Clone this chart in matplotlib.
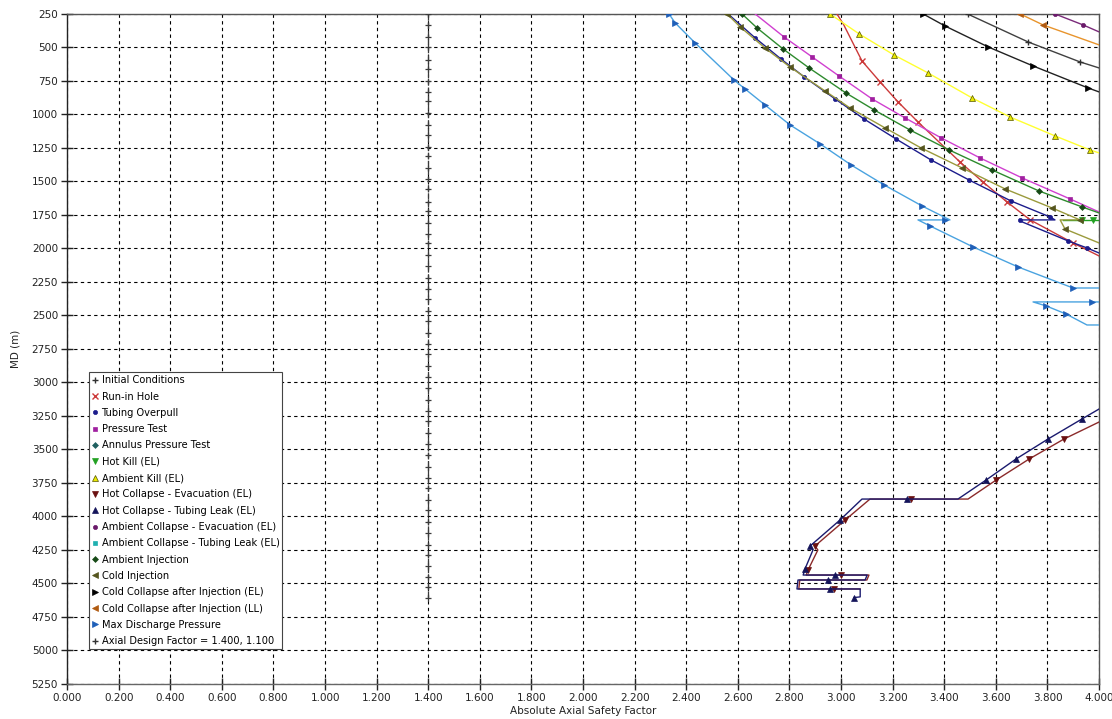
import matplotlib
matplotlib.use("Agg")
import matplotlib.pyplot as plt
from matplotlib.lines import Line2D
from matplotlib.ticker import MultipleLocator, FormatStrFormatter

plt.rcParams['font.family'] = ['DejaVu Sans']

# ---------------------------------------------------------------- data
# Absolute axial safety factor (sf) versus measured depth (md, m)
initial_sf = [3.49, 3.725, 3.926, 4.0]
initial_md = [250, 459, 608, 653]

runin_sf = [2.984, 3.010, 3.081, 3.151, 3.221, 3.298, 3.461, 3.550, 3.643, 3.733, 3.899, 4.0]
runin_md = [250, 330, 601, 757, 907, 1056, 1355, 1504, 1653, 1787, 1959, 2056]

overpull_sf = [2.562, 2.667, 2.767, 2.857, 2.977, 3.089, 3.213, 3.349, 3.496, 3.659, 3.810,
               3.829, 3.694, 3.702, 3.880, 3.953, 4.0]
overpull_md = [250, 429, 586, 720, 884, 1034, 1183, 1340, 1489, 1646, 1765,
               1787, 1787, 1802, 1944, 1996, 2034]

pressure_sf = [2.667, 2.779, 2.888, 2.992, 3.120, 3.248, 3.388, 3.539, 3.702, 3.888, 4.0]
pressure_md = [250, 422, 571, 713, 884, 1026, 1175, 1325, 1474, 1631, 1728]

hotkill_sf = [4.05, 3.977, 3.934, 3.86]
hotkill_md = [1790, 1790, 1790, 1790]

ambkill_sf = [2.957, 3.070, 3.205, 3.337, 3.508, 3.655, 3.829, 3.965, 4.0]
ambkill_md = [250, 399, 556, 690, 877, 1019, 1160, 1265, 1287]

hotevac_sf = [4.0, 3.864, 3.729, 3.601, 3.492, 3.271, 3.112, 3.016, 2.899, 2.910, 2.872,
              2.865, 3.000, 3.108, 3.100, 2.840, 2.836, 2.973, 3.074]
hotevac_md = [3295, 3422, 3571, 3728, 3870, 3870, 3870, 4026, 4220, 4250, 4399,
              4437, 4437, 4437, 4474, 4474, 4541, 4541, 4541]

hotleak_sf = [4.0, 3.934, 3.802, 3.678, 3.562, 3.453, 3.256, 3.081, 2.996, 2.880, 2.891,
              2.860, 2.853, 2.977, 3.101, 3.093, 2.950, 2.833, 2.829, 2.957, 3.074, 3.074, 3.050]
hotleak_md = [3198, 3272, 3422, 3571, 3728, 3870, 3870, 3870, 4026, 4220, 4250,
              4392, 4437, 4437, 4437, 4474, 4474, 4474, 4541, 4541, 4541, 4600, 4605]

ambevac_sf = [3.829, 3.938, 4.0]
ambevac_md = [250, 332, 384]

ambinj_sf = [2.616, 2.674, 2.775, 2.876, 3.019, 3.128, 3.267, 3.419, 3.585, 3.767, 3.934, 4.0]
ambinj_md = [250, 354, 511, 653, 840, 966, 1116, 1265, 1414, 1571, 1690, 1735]

coldinj_sf = [2.558, 2.609, 2.705, 2.802, 2.938, 3.035, 3.171, 3.310, 3.469, 3.636, 3.818,
              3.926, 3.849, 3.868, 4.0]
coldinj_md = [250, 347, 504, 646, 825, 952, 1101, 1250, 1399, 1556, 1698,
              1787, 1787, 1855, 1959]

ccel_sf = [3.318, 3.403, 3.570, 3.744, 3.957, 4.0]
ccel_md = [250, 340, 496, 638, 802, 832]

ccll_sf = [3.694, 3.783, 4.0]
ccll_md = [250, 332, 481]

maxdis_sf = [2.333, 2.357, 2.434, 2.585, 2.628, 2.705, 2.802, 2.919, 3.039, 3.167, 3.314,
             3.422, 3.403, 3.298, 3.345, 3.512, 3.686, 3.899, 4.05, 4.05, 3.973, 3.744,
             3.795, 3.872, 3.953, 4.05]
maxdis_md = [250, 317, 466, 743, 810, 929, 1078, 1220, 1377, 1526, 1683,
             1787, 1787, 1787, 1832, 1989, 2138, 2295, 2295, 2399, 2399, 2399,
             2429, 2489, 2571, 2571]

design_factor = 1.400
design_md = [250, 330, 420, 500, 590, 660, 750, 830, 900, 990, 1080, 1150, 1240, 1310,
             1400, 1480, 1560, 1650, 1720, 1810, 1890, 1960, 2050, 2130, 2220, 2300,
             2380, 2470, 2540, 2630, 2710, 2790, 2880, 2960, 3040, 3130, 3210, 3290,
             3380, 3460, 3540, 3630, 3710, 3790, 3880, 3950, 4040, 4120, 4210, 4290,
             4370, 4450, 4530, 4610]

# ---------------------------------------------------------------- styling
series = [
    # label, sf, md, line colour, marker, marker face, marker every
    ("Initial Conditions", initial_sf, initial_md, "#404040", "+", "#303030", [0, 1, 2]),
    ("Run-in Hole", runin_sf, runin_md, "#cc3a3a", "x", "#cc3a3a", [2, 3, 4, 5, 6, 7, 8, 9, 10]),
    ("Tubing Overpull", overpull_sf, overpull_md, "#1c1c8c", "o", "#1c1c8c",
     [1, 2, 3, 4, 5, 6, 7, 8, 9, 10, 12, 14, 15]),
    ("Pressure Test", pressure_sf, pressure_md, "#d040d0", "s", "#a020a0", list(range(1, 10))),
    ("Annulus Pressure Test", [], [], "#206060", "D", "#206060", None),
    ("Hot Kill (EL)", hotkill_sf, hotkill_md, "#22a022", "v", "#22a022", [1, 2]),
    ("Ambient Kill (EL)", ambkill_sf, ambkill_md, "#ffff30", "^", "#e8e800", list(range(0, 8))),
    ("Hot Collapse - Evacuation (EL)", hotevac_sf, hotevac_md, "#8b2a2a", "v", "#6a1010",
     [1, 2, 3, 5, 7, 8, 10, 12, 17]),
    ("Hot Collapse - Tubing Leak (EL)", hotleak_sf, hotleak_md, "#1a1a6e", "^", "#14145a",
     [1, 2, 3, 4, 6, 8, 9, 11, 13, 16, 19, 22]),
    ("Ambient Collapse - Evacuation (EL)", ambevac_sf, ambevac_md, "#7a2a7a", "o", "#6a1a6a", [0, 1]),
    ("Ambient Collapse - Tubing Leak (EL)", [], [], "#20b0b0", "s", "#20b0b0", None),
    ("Ambient Injection", ambinj_sf, ambinj_md, "#2e8b2e", "D", "#174a17", list(range(0, 11))),
    ("Cold Injection", coldinj_sf, coldinj_md, "#9a9a3c", "<", "#55551e",
     [0, 1, 2, 3, 4, 5, 6, 7, 8, 9, 10, 11, 13]),
    ("Cold Collapse after Injection (EL)", ccel_sf, ccel_md, "#202020", ">", "#000000", [0, 1, 2, 3, 4]),
    ("Cold Collapse after Injection (LL)", ccll_sf, ccll_md, "#e8942c", "<", "#b05a10", [0, 1]),
    ("Max Discharge Pressure", maxdis_sf, maxdis_md, "#4aa3e0", ">", "#1f5fb8",
     [0, 1, 2, 3, 4, 5, 6, 7, 8, 9, 10, 12, 14, 15, 16, 17, 20, 22, 23]),
]

marker_size = {"+": 5, "x": 5, "o": 3, "s": 3, "D": 3, "v": 4, "^": 4, "<": 4, ">": 4}

fig = plt.figure(figsize=(11.12, 7.19), dpi=100)
ax = fig.add_axes([0.0603, 0.0487, 0.9281, 0.9319])

ax.set_xlim(0, 4.0)
ax.set_ylim(5250, 250)
ax.xaxis.set_major_locator(MultipleLocator(0.2))
ax.yaxis.set_major_locator(MultipleLocator(250))
ax.xaxis.set_major_formatter(FormatStrFormatter("%.3f"))
ax.grid(True, color="black", linestyle=(0, (3, 3)), linewidth=0.8)
ax.set_axisbelow(True)
ax.tick_params(direction="inout", length=9, width=1, labelsize=7.5, colors="#222222", pad=2)
for s in ax.spines.values():
    s.set_color("#555555")
    s.set_linewidth(1.0)
ax.spines["left"].set_color("#222222")
ax.spines["bottom"].set_color("#666666")


def edge_for(face):
    return "#555500" if face == "#e8e800" else face


handles = []
for label, sf, md, color, marker, face, every in series:
    ms = marker_size[marker]
    mew = 1.0 if marker in "+x" else 0.5
    if sf:
        ax.plot(sf, md, color=color, linewidth=1.0, marker=marker, markersize=ms,
                markerfacecolor=face, markeredgecolor=edge_for(face),
                markeredgewidth=mew, markevery=every, zorder=3)
    handles.append(Line2D([], [], linestyle="none", marker=marker, markersize=ms,
                          color=face, markeredgecolor=edge_for(face),
                          markeredgewidth=mew, label=label))

# design factor line at 1.400
ax.plot([design_factor] * len(design_md), design_md, color="#3a3a3a", linewidth=0.9,
        linestyle=(0, (5, 1.5)), marker="+", markersize=5, markeredgewidth=0.9, zorder=3)
handles.append(Line2D([], [], linestyle="none", marker="+", markersize=5, color="#333333",
                      markeredgewidth=1.0, label="Axial Design Factor = 1.400, 1.100"))

leg = ax.legend(handles=handles, loc="lower left", bbox_to_anchor=(0.021, 0.052),
                fontsize=7.1, frameon=True, fancybox=False, framealpha=1.0,
                edgecolor="#444444", borderpad=0.3, labelspacing=0.64,
                handlelength=0.6, handletextpad=0.4, borderaxespad=0)
leg.get_frame().set_linewidth(0.8)

ax.set_xlabel("Absolute Axial Safety Factor", fontsize=7.5, color="#222222", labelpad=2)
ax.set_ylabel("MD (m)", fontsize=7.5, color="#222222", labelpad=8)

fig.savefig("out.png", dpi=100)
